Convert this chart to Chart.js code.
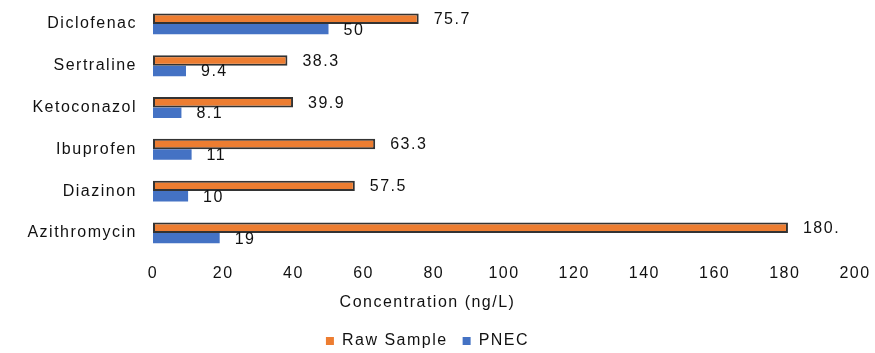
<!DOCTYPE html>
<html>
<head>
<meta charset="utf-8">
<script src="https://cdn.jsdelivr.net/npm/chart.js@4.4.1/dist/chart.umd.min.js"></script>
<style>
  html, body { margin: 0; padding: 0; background: #fff; }
  #chart { display: block; }
</style>
</head>
<body>
<canvas id="chart" width="875" height="353"></canvas>
<script>
// Compounds, top to bottom
const compounds = ['Diclofenac', 'Sertraline', 'Ketoconazol', 'Ibuprofen', 'Diazinon', 'Azithromycin'];
// Concentrations in ng/L
const rawSample = [75.7, 38.3, 39.9, 63.3, 57.5, 180.9];
const pnec = [50, 9.4, 8.1, 11, 10, 19];
// Concentration axis
const axisMin = 0;
const axisMax = 200;
const axisStep = 20;

const FONT = '"Liberation Sans", Arial, Helvetica, sans-serif';
const INK = '#111111';
const SPACING = '1.5px';

Chart.defaults.font.family = FONT;
Chart.defaults.font.size = 16;
Chart.defaults.color = INK;

// Value labels are clipped to four characters, as in the source table
const fmt = v => String(v).slice(0, 4);

// Slightly spaced-out lettering for all canvas text
const letterSpacing = {
  id: 'letterSpacing',
  beforeLayout(chart) { chart.ctx.letterSpacing = SPACING; },
  beforeDraw(chart) { chart.ctx.letterSpacing = SPACING; }
};

// Value printed just past the end of each bar
const valueLabels = {
  id: 'valueLabels',
  afterDatasetsDraw(chart) {
    const ctx = chart.ctx;
    ctx.save();
    ctx.letterSpacing = SPACING;
    ctx.font = '16px ' + FONT;
    ctx.fillStyle = INK;
    ctx.textAlign = 'left';
    ctx.textBaseline = 'middle';
    chart.data.datasets.forEach((ds, di) => {
      const meta = chart.getDatasetMeta(di);
      meta.data.forEach((bar, i) => {
        ctx.fillText(fmt(ds.data[i]), bar.x + 15, bar.y + 1);
      });
    });
    ctx.restore();
  }
};

new Chart(document.getElementById('chart'), {
  type: 'bar',
  data: {
    labels: compounds,
    datasets: [
      {
        label: 'Raw Sample',
        data: rawSample,
        backgroundColor: '#ED7D31',
        borderColor: '#333333',
        borderWidth: 2,
        borderSkipped: false,
        categoryPercentage: 0.5,
        barPercentage: 1.0
      },
      {
        label: 'PNEC',
        data: pnec,
        backgroundColor: '#4472C4',
        borderWidth: 0,
        categoryPercentage: 0.5,
        barPercentage: 1.0
      }
    ]
  },
  options: {
    indexAxis: 'y',
    responsive: false,
    animation: false,
    devicePixelRatio: 1,
    layout: { padding: { top: 3, right: 20, left: 0, bottom: -6 } },
    scales: {
      x: {
        min: axisMin,
        max: axisMax,
        grid: { display: false, drawTicks: false },
        border: { display: false },
        ticks: { stepSize: axisStep, padding: 10, color: INK, font: { size: 16 } },
        afterFit(scale) {
          scale.height = 33;
          scale.paddingLeft = 0;
          scale.paddingRight = 0;
        }
      },
      y: {
        grid: { display: false, drawTicks: false },
        border: { display: false },
        ticks: { padding: 16, color: INK, font: { size: 16 } },
        afterFit(scale) {
          scale.width = 153;
          scale.paddingTop = 0;
          scale.paddingBottom = 0;
        }
      }
    },
    plugins: {
      tooltip: { enabled: false },
      title: {
        display: true,
        text: 'Concentration (ng/L)',
        position: 'bottom',
        weight: 500,
        color: INK,
        font: { size: 16, weight: 'normal' },
        padding: { top: 6, bottom: 6 }
      },
      legend: {
        position: 'bottom',
        labels: {
          boxWidth: 8,
          boxHeight: 8,
          padding: 15,
          color: INK,
          font: { size: 16 },
          generateLabels(chart) {
            return Chart.defaults.plugins.legend.labels.generateLabels(chart)
              .map(item => Object.assign(item, { lineWidth: 0, strokeStyle: 'rgba(0,0,0,0)' }));
          }
        }
      }
    }
  },
  plugins: [letterSpacing, valueLabels]
});
</script>
</body>
</html>
